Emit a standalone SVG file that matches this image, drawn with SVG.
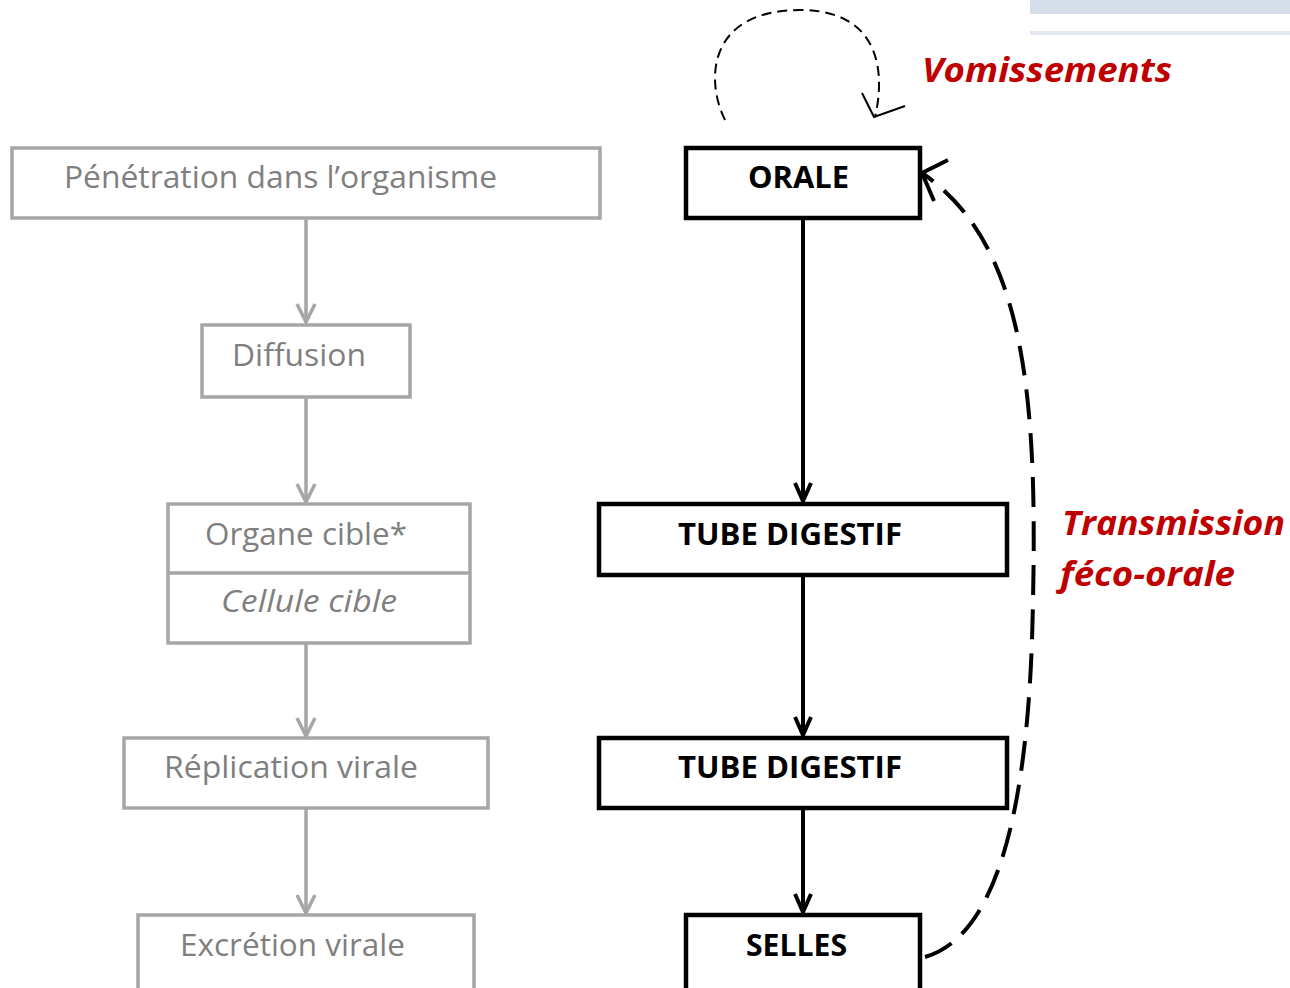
<svg xmlns="http://www.w3.org/2000/svg" width="1290" height="988" viewBox="0 0 1290 988">
<style>
.g{fill:#fff;stroke:#a6a6a6;stroke-width:3.5}
.b{fill:#fff;stroke:#000;stroke-width:4.5}
.gt{font-family:"Open Sans","Liberation Sans",sans-serif;font-size:31px;fill:#7f7f7f}
.bt{font-family:"Open Sans","Liberation Sans",sans-serif;font-size:30px;font-weight:bold;fill:#000}
.rt{font-family:"Open Sans","Liberation Sans",sans-serif;font-size:34px;font-weight:bold;font-style:italic;fill:#c00000}
.gc{stroke:#a6a6a6;stroke-width:3.5;fill:none}
.bc{stroke:#000;stroke-width:4;fill:none}
</style>
<defs>
<marker id="ga" markerUnits="userSpaceOnUse" viewBox="-22 -12 24 24" markerWidth="24" markerHeight="24" refX="0" refY="0" orient="auto" overflow="visible">
<path d="M-18,-9 L0,0 L-18,9" fill="none" stroke="#a6a6a6" stroke-width="3.5"/>
</marker>
<marker id="ba" markerUnits="userSpaceOnUse" viewBox="-22 -12 24 24" markerWidth="24" markerHeight="24" refX="0" refY="0" orient="auto" overflow="visible">
<path d="M-18,-8 L0,0 L-18,8" fill="none" stroke="#000" stroke-width="4"/>
</marker>
</defs>
<rect width="1290" height="988" fill="#fff"/>
<rect x="1030" y="0" width="260" height="14" fill="#d6ddea"/>
<rect x="1030" y="31" width="260" height="4" fill="#e3e7ee"/>

<g id="connectors">
<line class="gc" x1="306" y1="218" x2="306" y2="322" marker-end="url(#ga)"/>
<line class="gc" x1="306" y1="397" x2="306" y2="502" marker-end="url(#ga)"/>
<line class="gc" x1="306" y1="643" x2="306" y2="736" marker-end="url(#ga)"/>
<line class="gc" x1="306" y1="808" x2="306" y2="913" marker-end="url(#ga)"/>
<line class="bc" x1="803" y1="218" x2="803" y2="501" marker-end="url(#ba)"/>
<line class="bc" x1="803" y1="575" x2="803" y2="735" marker-end="url(#ba)"/>
<line class="bc" x1="803" y1="808" x2="803" y2="912" marker-end="url(#ba)"/>
<path d="M925,957 C1000,935 1030,800 1033,600 C1038,380 1020,240 922,173" fill="none" stroke="#000" stroke-width="4" stroke-dasharray="30,14"/>
<path d="M948,160 L922,173 L934,201" fill="none" stroke="#000" stroke-width="4"/>
<path d="M725,120 C705,80 708,10 800,10 C882,10 885,75 875,117" fill="none" stroke="#000" stroke-width="2" stroke-dasharray="10,6"/>
<path d="M862,93 L874,117 L905,106" fill="none" stroke="#000" stroke-width="2"/>
</g>

<g id="n-penetration"><rect class="g" x="12" y="148" width="588" height="70"/><text class="gt" x="64" y="188" textLength="433" lengthAdjust="spacingAndGlyphs">Pénétration dans l’organisme</text></g>
<g id="n-diffusion"><rect class="g" x="202" y="325" width="208" height="72"/><text class="gt" x="232" y="366" textLength="134" lengthAdjust="spacingAndGlyphs">Diffusion</text></g>
<g id="n-organe"><rect class="g" x="168" y="504" width="302" height="139"/><line class="gc" x1="168" y1="573" x2="470" y2="573"/><text class="gt" x="205" y="545" textLength="202" lengthAdjust="spacingAndGlyphs">Organe cible*</text><text class="gt" x="221" y="612" font-style="italic" textLength="176" lengthAdjust="spacingAndGlyphs">Cellule cible</text></g>
<g id="n-replication"><rect class="g" x="124" y="738" width="364" height="70"/><text class="gt" x="164" y="778" textLength="254" lengthAdjust="spacingAndGlyphs">Réplication virale</text></g>
<g id="n-excretion"><rect class="g" x="138" y="915" width="336" height="80"/><text class="gt" x="180" y="956" textLength="225" lengthAdjust="spacingAndGlyphs">Excrétion virale</text></g>

<g id="n-orale"><rect class="b" x="686" y="148" width="234" height="70"/><text class="bt" x="748" y="188" textLength="101" lengthAdjust="spacingAndGlyphs">ORALE</text></g>
<g id="n-tube1"><rect class="b" x="599" y="504" width="408" height="71"/><text class="bt" x="678" y="545" textLength="224" lengthAdjust="spacingAndGlyphs">TUBE DIGESTIF</text></g>
<g id="n-tube2"><rect class="b" x="599" y="738" width="408" height="70"/><text class="bt" x="678" y="778" textLength="224" lengthAdjust="spacingAndGlyphs">TUBE DIGESTIF</text></g>
<g id="n-selles"><rect class="b" x="686" y="915" width="234" height="80"/><text class="bt" x="746" y="956" textLength="101" lengthAdjust="spacingAndGlyphs">SELLES</text></g>

<g id="labels">
<text class="rt" x="922" y="82" textLength="250" lengthAdjust="spacingAndGlyphs">Vomissements</text>
<text class="rt" x="1062" y="535" textLength="223" lengthAdjust="spacingAndGlyphs">Transmission</text>
<text class="rt" x="1060" y="586" textLength="175" lengthAdjust="spacingAndGlyphs">féco-orale</text>
</g>
</svg>
